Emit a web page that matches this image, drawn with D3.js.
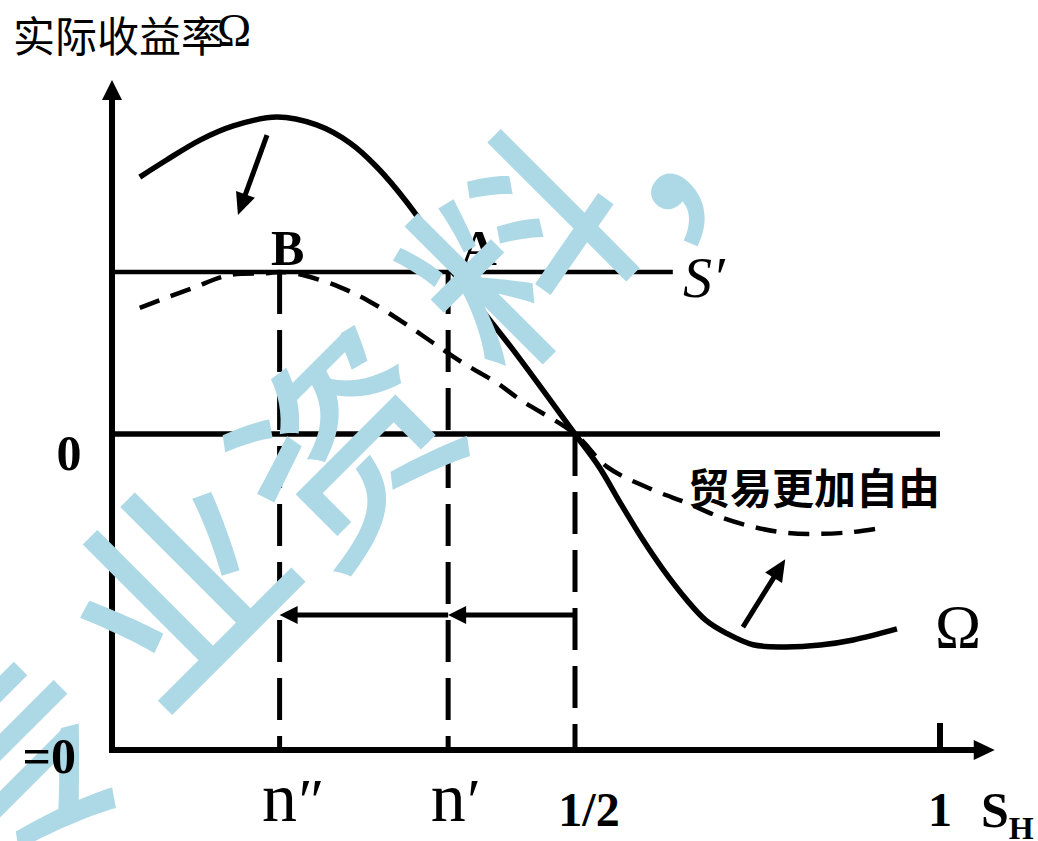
<!DOCTYPE html>

<head>
    <meta charset="utf-8">

    <style>
        body {
            margin: 0;
            background: #fff;
        }

        svg {
            position: absolute;
            top: 0;
            left: 0;
        }

        .lbl {
            font-family: 'Liberation Serif', 'Times New Roman', serif;
            fill: #000;
        }

        .bold {
            font-weight: bold;
        }

        .cjk {
            font-family: 'Noto Sans CJK SC', sans-serif;
            fill: #000;
        }

        .wm {
            font-family: 'Noto Sans CJK SC', sans-serif;
            font-size: 212px;
            font-weight: 500;
            fill: #add8e6;
        }
    </style>

    <script src="https://d3js.org/d3.v7.min.js"></script>
</head>

<body>
    <script>
        ////////////// Data //////////////

        //Solid curve: actual return rate Omega against the share S_H
        const omega_sh = [0.030, 0.059, 0.095, 0.131, 0.178, 0.221, 0.257, 0.286, 0.319, 0.347, 0.368, 0.435, 0.5,
            0.533, 0.562, 0.593, 0.621, 0.653, 0.679, 0.707, 0.744, 0.785, 0.836, 0.881, 0.941]
        const omega_val = [0.813, 0.867, 0.930, 0.975, 1.003, 0.978, 0.921, 0.845, 0.731, 0.614, 0.513, 0.259, 0,
            -0.104, -0.218, -0.335, -0.430, -0.525, -0.589, -0.630, -0.667, -0.674, -0.668, -0.652, -0.617]

        //Dashed curve: freer trade
        const free_sh = [0.030, 0.087, 0.127, 0.167, 0.181, 0.206, 0.246, 0.279, 0.314, 0.347, 0.379, 0.416, 0.441, 0.5,
            0.544, 0.607, 0.653, 0.699, 0.744, 0.790, 0.836, 0.881, 0.921]
        const free_val = [0.399, 0.462, 0.503, 0.509, 0.513, 0.503, 0.465, 0.418, 0.354, 0.288, 0.225, 0.161, 0.108, 0,
            -0.104, -0.177, -0.218, -0.263, -0.294, -0.313, -0.316, -0.310, -0.297]

        //Marked shares on the S_H axis
        const marks = [0.181, 0.363, 0.5]          //n'', n', 1/2
        const s_level = 0.513                      //height of the S' line
        const s_line_end = 0.634
        const shift_level = -0.573                 //height of the shift arrows
        const x_ticks = [0.5, 1]
        const x_tick_labels = ["1/2", "1"]

        //The two small arrows showing the shift of the curve
        const shift_from = [[0.1674, 0.946], [0.730, -0.611]]
        const shift_to = [[0.136, 0.693], [0.788, -0.396]]

        ////////////// Create the SVG //////////////

        const width = 1038,
            height = 841

        const svg = d3.select("body")
            .append("svg")
            .attr("width", width)
            .attr("height", height)

        svg.append("rect")
            .attr("width", width)
            .attr("height", height)
            .attr("fill", "#fff")

        ////////////// Scales //////////////

        //schematic axis: 1/2 is not halfway to 1
        const x_scale = d3.scaleLinear()
            .domain([0, 0.5, 1])
            .range([112, 575, 940])

        const y_scale = d3.scaleLinear()
            .domain([-1, 1])
            .range([750, 118])

        const line = d3.line()
            .x(d => x_scale(d[0]))
            .y(d => y_scale(d[1]))
            .curve(d3.curveCatmullRom.alpha(0.5))

        //line with a filled triangle at the end
        function arrow(g, x1, y1, x2, y2, len, hw, sw) {
            const L = Math.hypot(x2 - x1, y2 - y1),
                ux = (x2 - x1) / L,
                uy = (y2 - y1) / L
            const bx = x2 - ux * len,
                by = y2 - uy * len
            g.append("line")
                .attr("x1", x1).attr("y1", y1)
                .attr("x2", bx + ux * 2).attr("y2", by + uy * 2)
                .attr("stroke", "#000")
                .attr("stroke-width", sw)
            g.append("path")
                .attr("d", "M" + x2 + "," + y2 +
                    "L" + (bx - uy * hw) + "," + (by + ux * hw) +
                    "L" + (bx + uy * hw) + "," + (by - ux * hw) + "Z")
                .attr("fill", "#000")
        }

        const chart = svg.append("g")

        ////////////// Guide lines //////////////

        //S' line
        chart.append("line")
            .attr("x1", x_scale(0)).attr("x2", x_scale(s_line_end))
            .attr("y1", y_scale(s_level)).attr("y2", y_scale(s_level))
            .attr("stroke", "#000")
            .attr("stroke-width", 4.5)

        //zero line
        chart.append("line")
            .attr("x1", x_scale(0)).attr("x2", x_scale(1))
            .attr("y1", y_scale(0)).attr("y2", y_scale(0))
            .attr("stroke", "#000")
            .attr("stroke-width", 5.5)

        //dashed drop lines
        chart.selectAll(".drop")
            .data(marks)
            .join("line")
            .attr("class", "drop")
            .attr("x1", d => x_scale(d)).attr("x2", d => x_scale(d))
            .attr("y1", d => d === 0.5 ? y_scale(0) : y_scale(s_level))
            .attr("y2", y_scale(-1))
            .attr("stroke", "#000")
            .attr("stroke-width", 5)
            .attr("stroke-dasharray", "42,16")

        ////////////// Curves //////////////

        chart.append("path")
            .attr("d", line(free_sh.map((s, i) => [s, free_val[i]])))
            .attr("fill", "none")
            .attr("stroke", "#000")
            .attr("stroke-width", 4.5)
            .attr("stroke-dasharray", "21,12")

        chart.append("path")
            .attr("d", line(omega_sh.map((s, i) => [s, omega_val[i]])))
            .attr("fill", "none")
            .attr("stroke", "#000")
            .attr("stroke-width", 5.5)

        ////////////// Arrows //////////////

        arrow(chart, x_scale(marks[2]), y_scale(shift_level), x_scale(marks[1]), y_scale(shift_level), 18, 9, 5)
        arrow(chart, x_scale(marks[1]), y_scale(shift_level), x_scale(marks[0]), y_scale(shift_level), 18, 9, 5)

        shift_from.forEach((f, i) => {
            arrow(chart, x_scale(f[0]), y_scale(f[1]), x_scale(shift_to[i][0]), y_scale(shift_to[i][1]), 22, 10, 5)
        })

        ////////////// Axes //////////////

        //y axis with arrow
        arrow(chart, x_scale(0), y_scale(-1) + 3, x_scale(0), y_scale(1.12), 20, 10, 6)
        //x axis with arrow
        arrow(chart, x_scale(0) - 3, y_scale(-1), x_scale(1.075), y_scale(-1), 21, 10, 6)

        //tick at 1
        chart.append("line")
            .attr("x1", x_scale(1)).attr("x2", x_scale(1))
            .attr("y1", y_scale(-1)).attr("y2", y_scale(-1) - 27)
            .attr("stroke", "#000")
            .attr("stroke-width", 6)

        ////////////// Labels //////////////

        //axis title
        svg.append("text")
            .attr("class", "cjk")
            .attr("x", 13)
            .attr("y", 52)
            .attr("font-size", 42)
            .text("实际收益率")
        svg.append("text")
            .attr("class", "lbl")
            .attr("x", 217)
            .attr("y", 46)
            .attr("font-size", 46)
            .text("Ω")

        //tick labels on the S_H axis
        svg.selectAll(".xtick")
            .data(x_ticks)
            .join("text")
            .attr("class", "lbl bold xtick")
            .attr("x", (d, i) => x_scale(d) + (i === 0 ? 14 : 0))
            .attr("y", 826)
            .attr("font-size", 48)
            .attr("text-anchor", "middle")
            .text((d, i) => x_tick_labels[i])

        //n'' and n'
        const n_primes = ["″", "′"]
        marks.slice(0, 2).forEach((m, i) => {
            svg.append("text")
                .attr("class", "lbl")
                .attr("x", x_scale(m))
                .attr("y", 821)
                .attr("font-size", 70)
                .attr("text-anchor", "middle")
                .text("n")
            svg.append("text")
                .attr("class", "lbl")
                .attr("x", x_scale(m) + 19)
                .attr("y", 821)
                .attr("font-size", 62)
                .text(n_primes[i])
        })

        //S_H
        const sh_text = svg.append("text")
            .attr("class", "lbl bold")
            .attr("x", 981)
            .attr("y", 827)
            .attr("font-size", 50)
        sh_text.append("tspan").text("S")
        sh_text.append("tspan")
            .attr("font-size", 32)
            .attr("dy", 12)
            .text("H")

        //zero on the y axis
        svg.append("text")
            .attr("class", "lbl bold")
            .attr("x", 69)
            .attr("y", y_scale(0) + 36)
            .attr("font-size", 50)
            .attr("text-anchor", "middle")
            .text("0")

        //points
        svg.append("text")
            .attr("class", "lbl bold")
            .attr("x", x_scale(marks[0]) + 8)
            .attr("y", y_scale(s_level) - 7)
            .attr("font-size", 50)
            .attr("text-anchor", "middle")
            .text("B")
        svg.append("text")
            .attr("class", "lbl bold")
            .attr("x", x_scale(omega_sh[10]) + 26)
            .attr("y", y_scale(s_level) - 7)
            .attr("font-size", 50)
            .attr("text-anchor", "middle")
            .text("A")

        //S'
        svg.append("text")
            .attr("class", "lbl")
            .attr("x", 683)
            .attr("y", 297)
            .attr("font-size", 58)
            .attr("font-style", "italic")
            .text("S′")

        //curve names
        svg.append("text")
            .attr("class", "lbl")
            .attr("x", 935)
            .attr("y", 647)
            .attr("font-size", 62)
            .text("Ω")

        svg.append("text")
            .attr("class", "cjk")
            .attr("x", 688)
            .attr("y", 504)
            .attr("font-size", 42)
            .attr("font-weight", "bold")
            .text("贸易更加自由")

        ////////////// Watermark //////////////

        const wm_chars = ["专", "业", "资", "料", "，"]
        const wm_pos = [[5, 762], [168, 578], [335, 436], [510, 242], [663, 114]]

        svg.selectAll(".wm")
            .data(wm_chars)
            .join("text")
            .attr("class", "wm")
            .attr("text-anchor", "middle")
            .attr("dominant-baseline", "central")
            .attr("transform", (d, i) => "translate(" + wm_pos[i][0] + "," + wm_pos[i][1] + ") rotate(-45)")
            .text(d => d)

        //partly cut label at the S_H axis, kept above the watermark
        svg.append("text")
            .attr("class", "lbl bold")
            .attr("x", 76)
            .attr("y", y_scale(-1) + 23)
            .attr("font-size", 50)
            .attr("text-anchor", "end")
            .text("=0")
    </script>
</body>
